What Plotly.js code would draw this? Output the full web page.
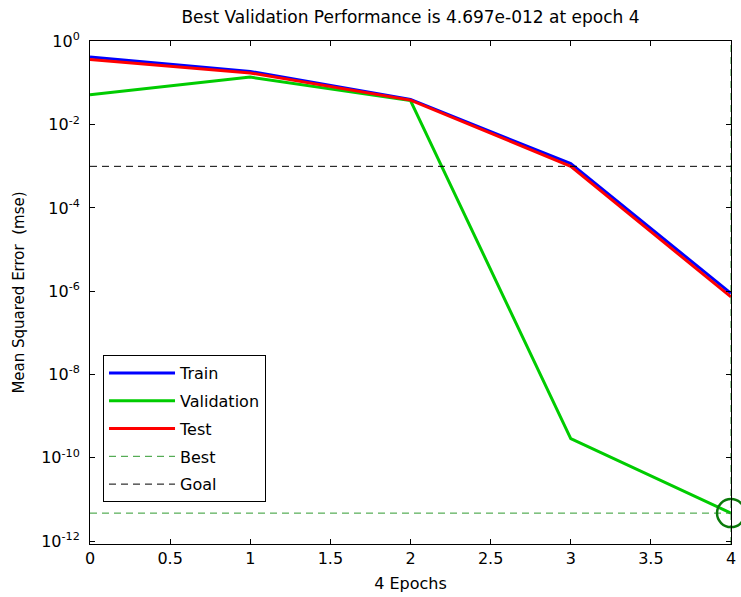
<!DOCTYPE html>
<html>
<head>
<meta charset="utf-8">
<script src="https://cdn.plot.ly/plotly-3.0.1.min.js"></script>
<style>
  html, body { margin: 0; padding: 0; background: #ffffff; }
  #chart { width: 741px; height: 597px; }
</style>
</head>
<body>
<div id="chart"></div>
<script>
// ---- data ----
const epochs = [0, 1, 2, 3, 4];
const trainPerf = [0.42, 0.19, 0.0404, 1.16e-3, 8.9e-7];
const valPerf = [0.052, 0.139, 0.038, 2.9e-10, 4.697e-12];
const testPerf = [0.37, 0.175, 0.039, 1.0e-3, 7.3e-7];
const goalValue = 1e-3;
const bestEpoch = 4;
const bestPerf = 4.697e-12;
const xRange = [0, 4];
const yLogRange = [-12.07, 0.01];
const yTickVals = [1e-12, 1e-10, 1e-8, 1e-6, 1e-4, 1e-2, 1];
const yTickText = ['10<sup>-12</sup>', '10<sup>-10</sup>', '10<sup>-8</sup>', '10<sup>-6</sup>', '10<sup>-4</sup>', '10<sup>-2</sup>', '10<sup>0</sup>'];
const seriesNames = ['Train', 'Validation', 'Test', 'Best', 'Goal'];

const FONT = 'DejaVu Sans, Liberation Sans, Arial, sans-serif';
const yMin = Math.pow(10, yLogRange[0]);
const yMax = Math.pow(10, yLogRange[1]);

const traces = [
  { x: epochs, y: trainPerf, name: seriesNames[0], mode: 'lines', legendgroup: 'a',
    line: { color: '#0000ff', width: 3 } },
  { x: epochs, y: valPerf, name: seriesNames[1], mode: 'lines', legendgroup: 'b',
    line: { color: '#00cc00', width: 3 } },
  { x: epochs, y: testPerf, name: seriesNames[2], mode: 'lines', legendgroup: 'c',
    line: { color: '#ff0000', width: 3 } },
  { x: [xRange[0], bestEpoch, null, bestEpoch, bestEpoch],
    y: [bestPerf, bestPerf, null, yMin, yMax],
    name: seriesNames[3], mode: 'lines', legendgroup: 'd',
    line: { color: '#2f9a2f', width: 1, dash: '7px,5px' } },
  { x: xRange, y: [goalValue, goalValue], name: seriesNames[4], mode: 'lines', legendgroup: 'e',
    line: { color: '#000000', width: 1, dash: '7px,5px' } },
  { x: [bestEpoch], y: [bestPerf], mode: 'markers', showlegend: false, cliponaxis: false,
    marker: { symbol: 'circle-open', size: 28, color: '#0a7a0a', line: { width: 2.5, color: '#0a7a0a' } } }
];

const layout = {
  width: 741, height: 597,
  margin: { l: 90, r: 10, t: 41, b: 53, pad: 0 },
  paper_bgcolor: '#ffffff', plot_bgcolor: '#ffffff',
  font: { family: FONT, size: 16, color: '#000000' },
  title: { text: 'Best Validation Performance is 4.697e-012 at epoch 4',
           font: { family: FONT, size: 17, color: '#000000' },
           x: 0.5, xref: 'paper', y: 1 - 17 / 597, yref: 'container', yanchor: 'middle' },
  xaxis: {
    range: xRange, dtick: 0.5, tick0: 0,
    showgrid: false, zeroline: false,
    showline: true, linecolor: '#000000', linewidth: 1, mirror: 'ticks',
    ticks: 'inside', ticklen: 5, tickcolor: '#000000',
    tickfont: { family: FONT, size: 16 },
    title: { text: '4 Epochs', font: { family: FONT, size: 16 }, standoff: 10 }
  },
  yaxis: {
    type: 'log', range: yLogRange,
    tickvals: yTickVals, ticktext: yTickText,
    showgrid: false, zeroline: false,
    showline: true, linecolor: '#000000', linewidth: 1, mirror: 'ticks',
    ticks: 'inside', ticklen: 5, tickcolor: '#000000',
    ticklabelstandoff: 6,
    tickfont: { family: FONT, size: 16 },
    title: { text: 'Mean Squared Error\u00a0\u00a0(mse)', font: { family: FONT, size: 15 }, standoff: 12 }
  },
  showlegend: true,
  legend: {
    x: 0.0203, y: 0.3757, xanchor: 'left', yanchor: 'top',
    bgcolor: '#ffffff', bordercolor: '#000000', borderwidth: 1,
    font: { family: FONT, size: 16 },
    traceorder: 'grouped', tracegroupgap: 4, itemwidth: 66
  }
};

Plotly.newPlot('chart', traces, layout, { displayModeBar: false, staticPlot: true });
</script>
</body>
</html>
